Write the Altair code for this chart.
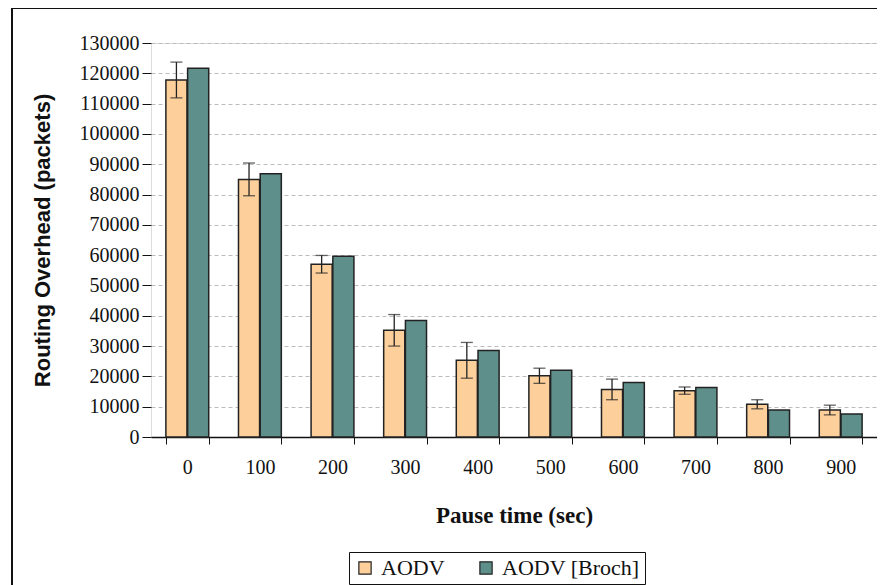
import altair as alt
import pandas as pd

pause = [0, 100, 200, 300, 400, 500, 600, 700, 800, 900]
aodv = [117800, 85000, 57000, 35200, 25300, 20200, 15700, 15300, 10800, 8900]
aodv_err = [5900, 5400, 2900, 5200, 5900, 2500, 3400, 1200, 1500, 1600]
broch = [121700, 86900, 59600, 38400, 28500, 22000, 18000, 16300, 8900, 7600]
series = ["AODV", "AODV [Broch]"]
colors = ["#FDD09B", "#5F8F8A"]
y_ticks = list(range(0, 130001, 10000))

rows = []
for p, a, b in zip(pause, aodv, broch):
    rows.append({"pause": p, "series": series[0], "value": a})
    rows.append({"pause": p, "series": series[1], "value": b})
df = pd.DataFrame(rows)
err = pd.DataFrame({
    "pause": pause,
    "series": [series[0]] * len(pause),
    "lo": [a - e for a, e in zip(aodv, aodv_err)],
    "hi": [a + e for a, e in zip(aodv, aodv_err)],
})

SERIF = "Liberation Serif"
SANS = "Liberation Sans"

x_scale = alt.Scale(paddingInner=0.41, paddingOuter=0.205)
y_scale = alt.Scale(domain=[0, 130000], nice=False)
x_axis = alt.Axis(
    title="Pause time (sec)", labelAngle=0, tickBand="extent",
    labelFont=SERIF, labelFontSize=20, labelColor="#111", labelPadding=13,
    titleFont=SERIF, titleFontSize=23, titleFontWeight="bold", titleColor="#111",
    titlePadding=27, tickSize=7, tickColor="#111", domainColor="#111",
    domainWidth=1.5, tickWidth=1,
)
y_axis = alt.Axis(
    title="Routing Overhead (packets)", values=y_ticks, format="d",
    labelOverlap=False,
    labelFont=SERIF, labelFontSize=20, labelColor="#111", labelPadding=3,
    titleFont=SANS, titleFontSize=22, titleFontWeight="bold", titleColor="#111",
    titlePadding=25, tickSize=9, tickColor="#111", domain=False,
    grid=True, gridColor="#bbbbbb", gridDash=[4, 3], gridWidth=1.2,
)
xo_enc = alt.XOffset("series:N", scale=alt.Scale(domain=series, paddingInner=0.03))


def xe():
    return alt.X("pause:O", scale=x_scale, axis=x_axis)


def ye(field):
    return alt.Y(field, scale=y_scale, axis=y_axis)


bars = alt.Chart(df).mark_bar(stroke="#222", strokeWidth=1.5).encode(
    x=xe(),
    xOffset=xo_enc,
    y=ye("value:Q"),
    color=alt.Color(
        "series:N",
        scale=alt.Scale(domain=series, range=colors),
        legend=alt.Legend(
            title=None, orient="none", legendX=198, legendY=509,
            direction="horizontal", strokeColor="#111", padding=5,
            symbolType="square", symbolSize=150, symbolStrokeColor="#222",
            symbolStrokeWidth=1.2, labelFont=SERIF, labelFontSize=22,
            labelColor="#111", columnPadding=30, labelOffset=5,
        ),
    ),
)

rules = alt.Chart(err).mark_rule(color="#222", strokeWidth=1.3).encode(
    x=xe(), xOffset=xo_enc, y=ye("lo:Q"), y2="hi:Q"
)
cap_lo = alt.Chart(err).mark_tick(color="#222", size=12, thickness=1.3).encode(
    x=xe(), xOffset=xo_enc, y=ye("lo:Q")
)
cap_hi = alt.Chart(err).mark_tick(color="#222", size=12, thickness=1.3).encode(
    x=xe(), xOffset=xo_enc, y=ye("hi:Q")
)

frame = alt.Chart(alt.Data(values=[{"a": 1}])).mark_rect(
    fill=None, stroke="#111", strokeWidth=2
).encode(
    x=alt.value(-139), x2=alt.value(800), y=alt.value(-35), y2=alt.value(600)
)

chart = alt.layer(frame, bars, rules, cap_lo, cap_hi).properties(
    width=726, height=394,
    padding={"left": 143, "top": 35, "right": 0, "bottom": 148},
    autosize=alt.AutoSizeParams(type="none"),
).configure_view(
    stroke="#999999", strokeDash=[3, 2], strokeWidth=1.5
).configure(background="white")

chart.save("out.html", embed_options={"renderer": "svg", "actions": False})
